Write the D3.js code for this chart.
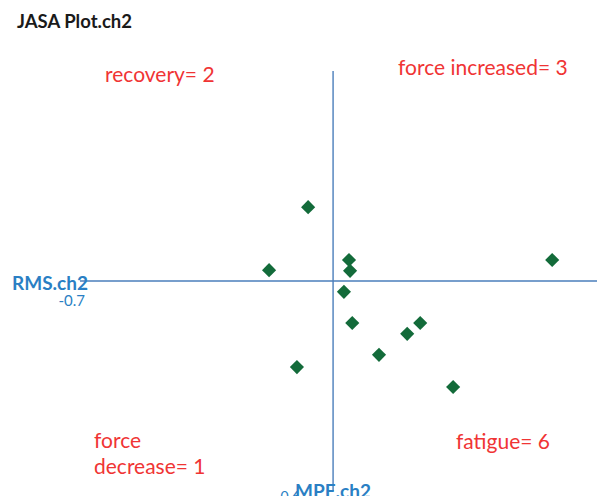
<!DOCTYPE html>
<html>
<head>
<meta charset="utf-8">
<script src="https://cdn.jsdelivr.net/npm/d3@7"></script>
<style>
  body { margin: 0; background: #fff; }
  text { font-family: Lato, "Open Sans", sans-serif; }
</style>
</head>
<body>
<script>
// MPE.ch2 (x) and RMS.ch2 (y) per point
var mpe = [-0.069, -0.177, 0.044, 0.047, 0.030, 0.053, 0.127, 0.205, 0.241, -0.100, 0.332, 0.606];
var rms = [0.211, 0.031, 0.060, 0.029, -0.031, -0.120, -0.211, -0.151, -0.120, -0.246, -0.303, 0.060];
var quadrantLabels = [["recovery= 2"], ["force increased= 3"], ["force", "decrease= 1"], ["fatigue= 6"]];
var xTickLabel = "-0.7";
var yTickLabel = "-0.6";

var width = 599, height = 496;

var svg = d3.select("body").append("svg")
  .attr("width", width).attr("height", height);

var x = d3.scaleLinear().domain([-0.7, 0.73]).range([80, 597]);
var y = d3.scaleLinear().domain([-0.6, 0.6]).range([491, 71]);

// title
svg.append("text").attr("x", 17).attr("y", 28)
  .style("font-size", "18.5px").style("font-weight", "bold").style("fill", "#1a1a1a")
  .text("JASA Plot.ch2");

// axes crossing at zero
svg.append("line")
  .attr("x1", x(-0.7)).attr("x2", x(0.73))
  .attr("y1", y(0)).attr("y2", y(0))
  .style("stroke", "#4a7ebb").style("stroke-width", 1.4);
svg.append("line")
  .attr("x1", x(0)).attr("x2", x(0))
  .attr("y1", y(0.6)).attr("y2", y(-0.6))
  .style("stroke", "#4a7ebb").style("stroke-width", 1.4);

// tick labels (only the end ones show)
svg.append("text").attr("x", 85).attr("y", 306).attr("text-anchor", "end")
  .style("font-size", "15px").style("fill", "#2a7fc4").text(xTickLabel);
svg.append("text").attr("x", 300).attr("y", 501).attr("text-anchor", "end")
  .style("font-size", "14px").style("fill", "#2a7fc4").text(yTickLabel);

// axis titles
svg.append("text").attr("x", 12).attr("y", 290)
  .style("font-size", "19px").style("font-weight", "bold").style("fill", "#2a7fc4")
  .text("RMS.ch2");
svg.append("text").attr("x", 333).attr("y", 498).attr("text-anchor", "middle")
  .style("font-size", "19px").style("font-weight", "bold").style("fill", "#2a7fc4")
  .text("MPE.ch2");

// quadrant annotations
var labelPos = [[105, 82], [398, 75], [94, 448], [456, 449]];
quadrantLabels.forEach(function (lines, i) {
  var t = svg.append("text")
    .attr("x", labelPos[i][0]).attr("y", labelPos[i][1])
    .style("font-size", "21px").style("fill", "#f03434");
  lines.forEach(function (s, j) {
    t.append("tspan").attr("x", labelPos[i][0]).attr("dy", j === 0 ? 0 : 26).text(s);
  });
});

// points
var pts = mpe.map(function (d, i) { return { x: d, y: rms[i] }; });
svg.selectAll("path.pt")
  .data(pts)
  .enter()
  .append("path")
  .attr("class", "pt")
  .attr("d", d3.symbol().type(d3.symbolSquare).size(100))
  .attr("transform", function (d) {
    return "translate(" + x(d.x) + "," + y(d.y) + ") rotate(45)";
  })
  .style("fill", "#136b3a");
</script>
</body>
</html>
